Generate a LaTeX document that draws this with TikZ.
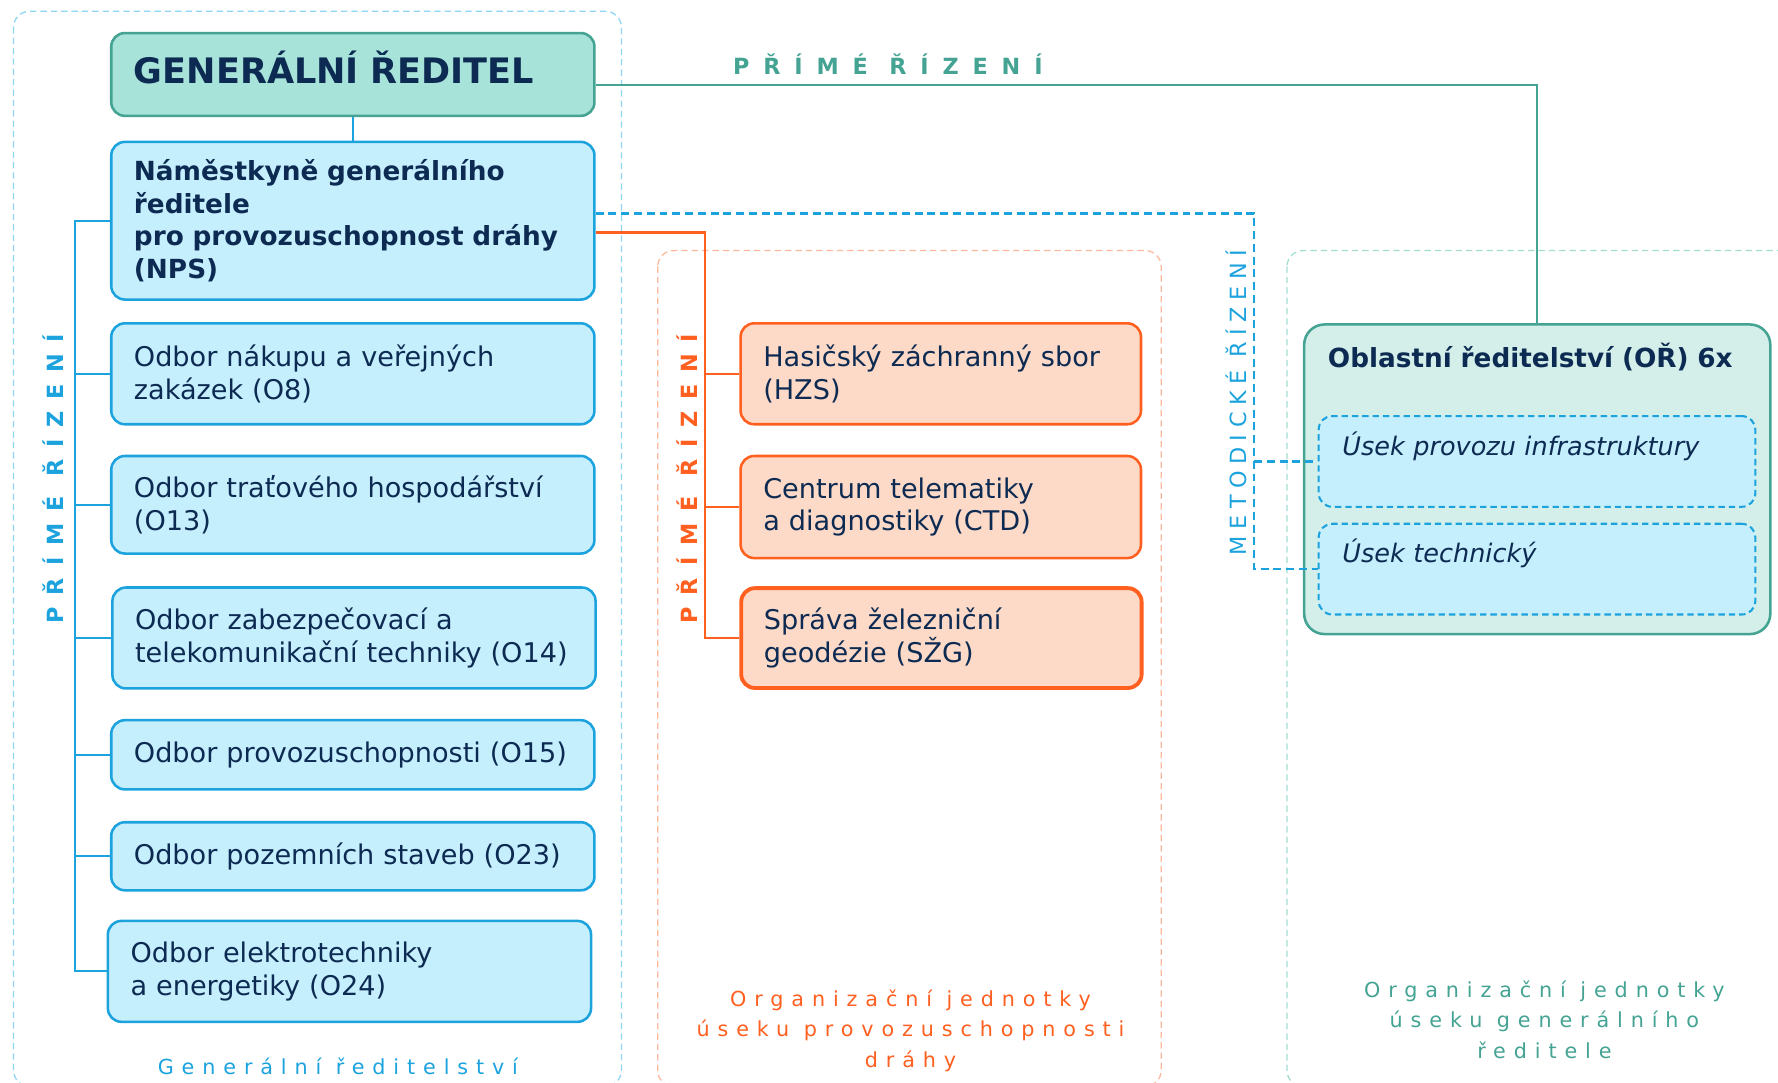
\documentclass[tikz,border=0pt]{standalone}
\usepackage{fontspec}
\setmainfont{DejaVu Sans}
\newfontfamily\spacedwide{DejaVu Sans}[LetterSpace=62]
\newfontfamily\spacedtall{DejaVu Sans}[LetterSpace=53]
\newfontfamily\spacedmid{DejaVu Sans}[LetterSpace=29]
\newfontfamily\spacedsoft{DejaVu Sans}[LetterSpace=38]
\usepackage{tikz}

\definecolor{navy}{HTML}{0D2B52}
\definecolor{tealfill}{HTML}{A8E3DA}
\definecolor{tealline}{HTML}{45A393}
\definecolor{bluefill}{HTML}{C6EFFD}
\definecolor{blueline}{HTML}{1CA3DE}
\definecolor{orangeline}{HTML}{FF5F1F}
\definecolor{orangefill}{HTML}{FDD9C7}
\definecolor{orangegroup}{HTML}{FBB89D}
\definecolor{bluegroup}{HTML}{8ED6F4}
\definecolor{tealgroup}{HTML}{A3DDD2}
\definecolor{oblfill}{HTML}{D4EFEA}

\tikzset{
  orgbox/.style={rectangle, rounded corners=0.3cm, line width=1.6pt, anchor=north west,
    align=left, inner xsep=0.5cm, inner ysep=0pt, text=navy, font=\fontsize{17}{20.6}\selectfont},
  bluebox/.style={orgbox, draw=blueline, fill=bluefill, text width=9.65cm},
  orangebox/.style={orgbox, draw=orangeline, fill=orangefill, text width=7.825cm},
  usekbox/.style={orgbox, draw=blueline, fill=bluefill, dash pattern=on 4pt off 2.5pt,
    line width=1.3pt, inner xsep=0.525cm, inner ysep=0.2cm, text width=8.575cm,
    font=\fontsize{16}{19}\selectfont\itshape},
  groupframe/.style={rounded corners=0.35cm, line width=0.8pt, dash pattern=on 4pt off 2.5pt},
  blueconn/.style={draw=blueline, line width=1.4pt},
  orangeconn/.style={draw=orangeline, line width=1.4pt},
  tealconn/.style={draw=tealline, line width=1.4pt},
  metconn/.style={draw=blueline, line width=1.4pt, dash pattern=on 5pt off 3pt},
  ctrlabel/.style={font={\spacedtall\bfseries\fontsize{14}{16}\selectfont}},
  grouplabel/.style={align=center, font={\spacedsoft\fontsize{13}{19.1}\selectfont}}
}

\begin{document}
\begin{tikzpicture}[x=0.025cm, y=-0.025cm]
\useasboundingbox (0,0) rectangle (1568,955);

% group frames
\draw[groupframe, draw=bluegroup] (12,10) rectangle (548,958);
\draw[groupframe, draw=orangegroup] (580,221) rectangle (1024,958);
\draw[groupframe, draw=tealgroup] (1135,221) rectangle (1620,958);

% general director and deputy
\node[orgbox, draw=tealline, fill=tealfill, text width=9.65cm, minimum height=1.825cm,
  text height=0.62cm, text depth=0.2cm,
  font=\fontsize{22}{26}\selectfont\bfseries] (gr) at (97,28) {GENERÁLNÍ ŘEDITEL};
\node[bluebox, minimum height=3.475cm, font=\fontsize{16.5}{20.6}\selectfont\bfseries] (nps) at (97,124)
  {Náměstkyně generálního\\ředitele\\pro provozuschopnost dráhy\\(NPS)};

% departments
\node[bluebox, minimum height=2.225cm] (ob8) at (97,284) {Odbor nákupu a veřejných\\zakázek (O8)};
\node[bluebox, minimum height=2.15cm] (ob13) at (97,401) {Odbor traťového hospodářství\\(O13)};
\node[bluebox, minimum height=2.225cm] (ob14) at (98,517) {Odbor zabezpečovací a\\telekomunikační techniky (O14)};
\node[bluebox, minimum height=1.525cm] (ob15) at (97,634) {Odbor provozuschopnosti (O15)};
\node[bluebox, minimum height=1.5cm] (ob23) at (97,724) {Odbor pozemních staveb (O23)};
\node[bluebox, minimum height=2.225cm] (ob24) at (94,811) {Odbor elektrotechniky\\a energetiky (O24)};

% units of NPS
\node[orangebox, minimum height=2.225cm] (hzs) at (652,284) {Hasičský záchranný sbor\\(HZS)};
\node[orangebox, minimum height=2.25cm] (ctd) at (652,401) {Centrum telematiky\\a diagnostiky (CTD)};
\node[orangebox, minimum height=2.2cm, line width=2.4pt] (szg) at (652,517) {Správa železniční\\geodézie (SŽG)};

% regional directorates
\node[orgbox, draw=tealline, fill=oblfill, rounded corners=0.45cm, inner xsep=0.525cm, inner ysep=0.2cm,
  text width=9.225cm, text height=0.75cm, text depth=5.675cm,
  font=\fontsize{16.5}{20}\selectfont\bfseries] (obl) at (1149,285) {Oblastní ředitelství (OŘ) 6x};
\node[usekbox, text height=0.675cm, text depth=0.925cm] (usekA) at (1162,366) {Úsek provozu infrastruktury};
\node[usekbox, text height=0.65cm, text depth=0.95cm] (usekB) at (1162,461) {Úsek technický};

% connectors
\coordinate (spine) at (66,0);
\coordinate (orx) at (622,0);
\coordinate (metx) at (1106,0);
\draw[blueconn] (gr.south) -- (nps.north);
\draw[blueconn] (nps.west) -| (spine |- ob24.west) -- (ob24.west);
\foreach \n in {ob8,ob13,ob14,ob15,ob23}
  \draw[blueconn] (\n.west) -- (spine |- \n.west);
\draw[tealconn] ([yshift=-0.24cm]gr.east) -| (obl.north);
\draw[orangeconn] ([yshift=-0.26cm]nps.east) -| (orx |- szg.west) -- (szg.west);
\foreach \n in {hzs,ctd}
  \draw[orangeconn] (\n.west) -- (orx |- \n.west);
\draw[metconn] ([yshift=0.16cm]nps.east) -| (metx |- usekB.west) -- (usekB.west);
\draw[metconn] (metx |- usekA.west) -- (usekA.west);

% labels
\node[text=tealline, font={\spacedwide\bfseries\fontsize{14}{16}\selectfont}] (toplabel) at (783,57) {PŘÍMÉ ŘÍZENÍ};
\node[ctrlabel, text=blueline, rotate=90] (leftlabel) at (47,422) {PŘÍMÉ ŘÍZENÍ};
\node[ctrlabel, text=orangeline, rotate=90] (midlabel) at (606,422) {PŘÍMÉ ŘÍZENÍ};
\node[text=blueline, rotate=90, font={\spacedmid\fontsize{14}{16}\selectfont}] (metlabel) at (1090,355) {METODICKÉ ŘÍZENÍ};
\node[grouplabel, text=blueline] (gflabel) at (298,940) {Generální ředitelství};
\node[grouplabel, text=orangeline] (oulabel) at (803,909) {Organizační jednotky\\úseku provozuschopnosti\\dráhy};
\node[grouplabel, text=tealline] (tulabel) at (1362,899) {Organizační jednotky\\úseku generálního\\ředitele};

\end{tikzpicture}
\end{document}
